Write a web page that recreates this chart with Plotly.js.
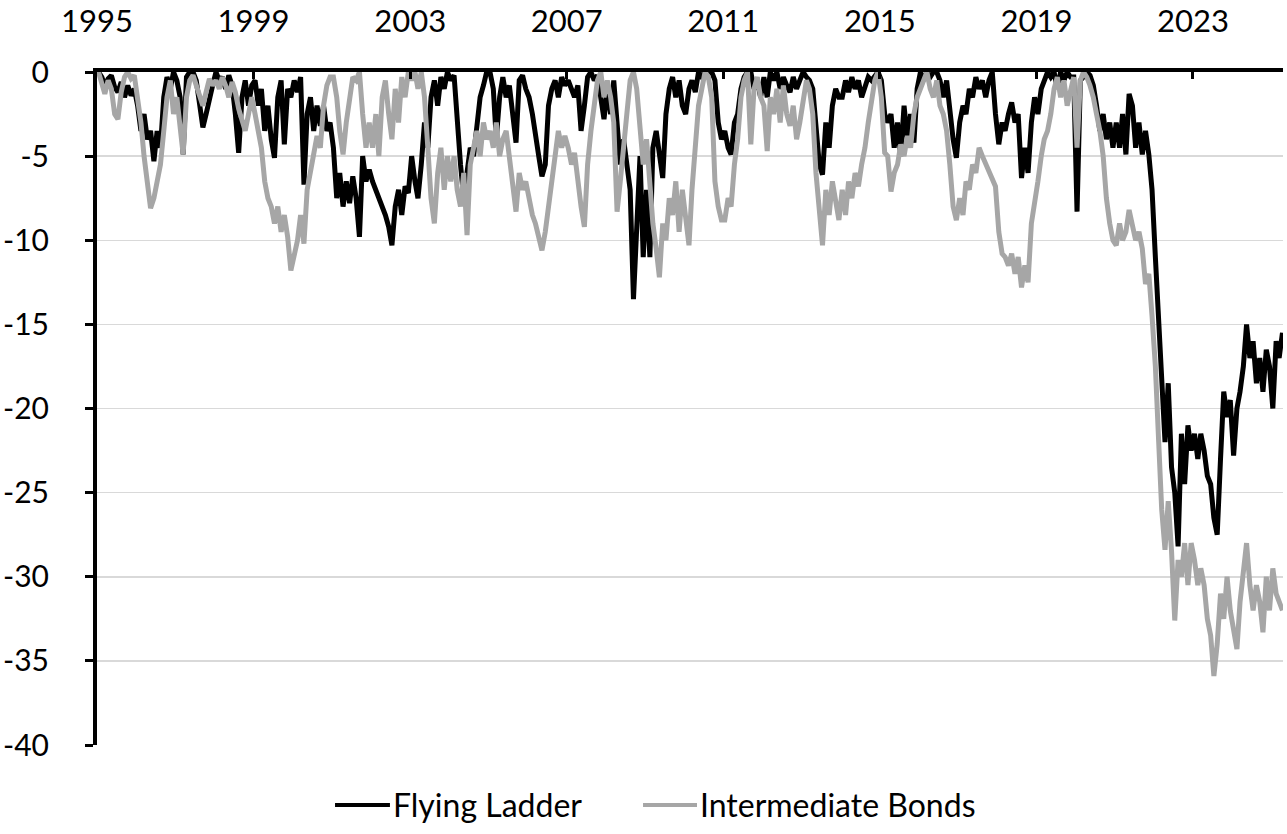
<!DOCTYPE html>
<html>
<head>
<meta charset="utf-8">
<script src="https://cdn.plot.ly/plotly-3.0.1.min.js"></script>
<style>
  html, body { margin: 0; padding: 0; background: #fff; }
  #drawdownChart { width: 1287px; height: 834px; }
</style>
</head>
<body>
<div id="drawdownChart"></div>
<script>
// monthly drawdown (%), Jan 1995 .. Apr 2025
const START_YEAR = 1995;

const flyingLadder = [
  0, -0.3, -0.8, -0.4, -0.2, -0.9, -1.2, -0.6, -1.5, -0.8, -1.4, -1.0,          // 1995
  -2.0, -3.5, -2.5, -4.0, -3.5, -5.3, -3.5, -4.5, -1.5, -0.3, -1.0, 0,          // 1996
  -0.5, -1.5, -4.9, -0.3, 0, 0, -0.5, -2.0, -3.3, -2.5, -1.5, -0.8,             // 1997
  0, -0.5, -0.3, -1.0, -0.2, -0.8, -2.5, -4.8, -1.5, -0.5, -2.0, -0.8,          // 1998
  -0.5, -2.0, -1.0, -3.5, -2.0, -4.0, -5.1, -1.5, -0.5, -4.3, -1.0, -1.5,       // 1999
  -0.5, -1.2, -0.3, -6.7, -2.5, -1.5, -3.5, -2.0, -3.2, -2.0, -3.5, -3.0,       // 2000
  -4.5, -7.5, -6.0, -8.0, -6.5, -7.8, -6.2, -7.5, -9.8, -5.0, -6.5, -5.8,       // 2001
  -6.5, -7.0, -7.5, -8.0, -8.5, -9.2, -10.3, -8.0, -7.0, -8.5, -6.8, -7.2,      // 2002
  -5.0, -6.5, -7.5, -5.5, -3.0, -4.5, -1.5, -0.5, -2.0, -0.3, -1.0, 0,          // 2003
  -0.5, -0.2, -3.0, -5.5, -7.5, -6.0, -4.5, -5.0, -3.0, -1.5, -0.8, 0,          // 2004
  0, -1.0, -4.0, -1.5, -0.3, -1.5, -0.8, -2.5, -4.2, -0.5, -0.2, -1.0,          // 2005
  -1.5, -2.5, -3.5, -5.0, -6.2, -5.5, -2.0, -1.0, -0.5, -1.5, -0.3, -0.8,       // 2006
  -0.5, -1.0, -1.5, -0.8, -3.5, -2.0, -0.3, 0, -0.5, -0.2, -1.5, -2.8,          // 2007
  -1.0, -2.5, -0.5, -3.5, -5.5, -4.0, -5.5, -7.0, -13.5, -9.0, -5.0, -11.0,     // 2008
  -7.0, -11.0, -4.5, -3.5, -5.0, -6.3, -2.5, -1.0, -0.3, -1.5, -0.5, -2.0,      // 2009
  -2.5, -1.0, -0.5, -1.2, 0, -0.3, 0, 0, 0, -0.5, -3.0, -4.0,                   // 2010
  -3.5, -4.5, -4.9, -3.0, -2.5, -1.0, -0.3, 0, 0, -1.0, -0.5, -1.5,             // 2011
  -0.3, -1.5, 0, -0.5, 0, -1.0, -0.3, -0.8, -1.2, -0.3, -1.0, -0.5,             // 2012
  0, -0.3, -0.5, -1.0, -3.5, -5.5, -6.1, -3.0, -4.5, -2.0, -1.0, -1.5,          // 2013
  -1.5, -0.5, -1.2, -0.3, -1.0, -0.5, -1.5, -0.8, -0.3, -0.5, -0.2, 0,          // 2014
  -0.5, -2.5, -3.0, -2.5, -4.5, -3.0, -5.0, -2.0, -4.0, -2.5, -4.2, -1.0,       // 2015
  0, -0.5, 0, -0.3, 0, 0, -0.5, -1.5, -0.5, -2.5, -4.0, -5.1,                   // 2016
  -3.0, -2.0, -2.5, -1.0, -1.5, -0.3, -1.0, -0.5, -1.5, -0.5, 0, -2.5,          // 2017
  -4.3, -3.0, -3.5, -2.5, -1.8, -3.0, -2.5, -6.3, -4.5, -6.0, -3.0, -1.5,       // 2018
  -2.5, -1.0, -0.5, 0, -0.3, 0, -1.0, 0, -0.5, 0, -0.3, -0.3,                   // 2019
  -8.3, -0.5, -0.3, 0, -0.2, -0.8, -2.0, -3.5, -2.5, -4.0, -3.0, -4.5,          // 2020
  -3.0, -4.5, -2.5, -4.9, -1.3, -2.0, -4.5, -3.0, -4.9, -3.5, -4.9, -7.0,       // 2021
  -11.0, -15.0, -19.5, -22.0, -18.5, -23.5, -25.0, -28.2, -21.5, -24.5, -21.0, -22.5, // 2022
  -21.5, -23.0, -21.5, -22.5, -24.0, -24.5, -26.5, -27.5, -23.0, -19.0, -20.5, -19.5, // 2023
  -22.8, -20.0, -19.0, -17.5, -15.0, -17.0, -16.0, -18.5, -17.0, -19.0, -16.5, -17.5, // 2024
  -20.0, -16.0, -17.0, -15.5                                                      // 2025
];

const intermediateBonds = [
  0, -0.6, -1.3, -0.5, -1.0, -2.5, -2.8, -1.2, -0.3, 0, -0.4, -0.2,             // 1995
  -1.5, -3.0, -5.0, -6.8, -8.1, -7.5, -6.5, -5.5, -3.5, -1.5, -0.5, -2.5,       // 1996
  -1.5, -3.5, -4.9, -1.5, -0.5, -0.2, -0.8, -1.5, -2.0, -1.2, -0.4, -0.8,       // 1997
  -0.5, -1.0, -0.3, -0.8, -1.5, -0.6, -1.2, -2.2, -2.8, -3.5, -2.5, -1.5,       // 1998
  -2.5, -3.5, -4.5, -6.5, -7.5, -8.0, -9.0, -8.0, -9.5, -8.5, -9.8, -11.8,      // 1999
  -11.0, -10.0, -8.5, -10.2, -7.0, -6.0, -5.0, -3.8, -4.5, -2.0, -0.8, -0.3,    // 2000
  -0.3, -1.5, -3.5, -4.9, -3.0, -1.5, -0.3, -0.5, 0, -2.5, -4.5, -3.0,          // 2001
  -4.5, -2.5, -5.0, -1.5, -0.5, -2.5, -4.0, -1.0, -3.0, -0.3, -1.5, 0,          // 2002
  -0.5, 0, -1.0, 0, -1.5, -4.5, -7.5, -9.0, -6.0, -4.5, -7.0, -5.0,             // 2003
  -6.5, -5.0, -7.0, -8.0, -6.0, -9.7, -5.5, -4.5, -3.5, -5.0, -3.0, -4.0,       // 2004
  -3.5, -4.5, -3.0, -5.0, -4.0, -3.5, -5.0, -6.5, -8.3, -6.0, -7.0, -6.5,       // 2005
  -7.5, -8.5, -9.0, -10.0, -10.6, -9.5, -8.0, -6.5, -5.0, -3.5, -4.5, -3.8,     // 2006
  -4.5, -5.5, -4.8, -6.5, -8.0, -9.2, -5.5, -3.5, -2.0, -0.5, 0, -1.5,          // 2007
  -0.5, -1.5, -3.0, -8.3, -6.5, -4.0, -2.5, -0.5, 0, -1.0, -3.0, -5.5,          // 2008
  -4.0, -7.0, -9.0, -10.5, -12.2, -9.0, -10.0, -7.5, -8.5, -6.5, -9.5, -7.0,    // 2009
  -8.5, -10.3, -7.0, -4.5, -2.0, -1.0, 0, -0.3, -1.5, -6.5, -8.0, -8.8,         // 2010
  -8.8, -7.5, -8.0, -5.5, -4.0, -1.5, -0.5, 0, -4.3, -1.0, -0.3, -1.5,          // 2011
  -2.0, -4.7, -1.5, -2.5, -1.0, -3.0, -0.8, -2.5, -3.2, -2.0, -4.0, -3.0,       // 2012
  -1.5, -0.5, -1.0, -2.5, -6.0, -8.5, -10.3, -7.0, -8.5, -6.5, -7.5, -8.8,      // 2013
  -7.0, -8.5, -6.5, -7.5, -6.0, -6.8, -5.5, -4.5, -3.0, -1.5, -0.5, 0,          // 2014
  -1.5, -4.8, -5.0, -7.1, -6.0, -5.5, -4.3, -5.0, -3.8, -4.5, -2.5, -1.5,       // 2015
  -1.0, -0.3, 0, -1.0, -1.5, -0.5, -2.0, -2.5, -3.5, -5.5, -8.0, -8.8,          // 2016
  -7.5, -8.5, -6.5, -7.0, -5.5, -6.0, -4.5, -5.0, -5.5, -6.0, -6.5, -6.8,       // 2017
  -9.5, -10.8, -11.0, -11.5, -10.8, -12.0, -11.0, -12.8, -11.5, -12.5, -9.0, -7.5, // 2018
  -6.5, -5.0, -4.0, -3.5, -2.5, -1.0, -0.3, -1.5, -0.5, -2.0, -1.0, -0.3,       // 2019
  -4.5, -0.5, 0, -0.3, -0.8, -1.5, -2.5, -3.5, -5.0, -7.5, -9.0, -10.0,         // 2020
  -10.3, -9.0, -10.0, -9.5, -8.2, -9.0, -10.0, -9.5, -10.5, -12.6, -12.0, -14.5, // 2021
  -17.5, -22.0, -26.0, -28.4, -25.5, -28.5, -32.6, -29.0, -30.0, -28.0, -30.5, -28.0, // 2022
  -29.0, -30.5, -29.5, -30.5, -32.5, -33.5, -35.9, -34.0, -31.0, -32.5, -30.0, -32.0, // 2023
  -33.0, -34.3, -31.5, -30.0, -28.0, -30.5, -32.0, -30.5, -31.5, -33.3, -30.0, -32.0, // 2024
  -29.5, -31.0, -31.5, -32.0                                                      // 2025
];

const yearTickVals = ['1995-01-01', '1999-01-01', '2003-01-01', '2007-01-01',
  '2011-01-01', '2015-01-01', '2019-01-01', '2023-01-01'];
const yearTickText = ['1995', '1999', '2003', '2007', '2011', '2015', '2019', '2023'];
const yTickVals = [0, -5, -10, -15, -20, -25, -30, -35, -40];
const yTickText = ['0', '-5', '-10', '-15', '-20', '-25', '-30', '-35', '-40'];
const seriesNames = ['Flying Ladder', 'Intermediate Bonds'];

const monthDates = flyingLadder.map((_, i) => {
  const y = START_YEAR + Math.floor(i / 12);
  const m = String((i % 12) + 1).padStart(2, '0');
  return `${y}-${m}-15`;
});

const fontFamily = 'Lato, "Open Sans", sans-serif';
const ladderColor = '#000000';
const bondsColor = '#a6a6a6';
const lineWidth = 5;

const ladderTrace = {
  x: monthDates,
  y: flyingLadder,
  type: 'scatter',
  mode: 'lines',
  name: seriesNames[0],
  line: { color: ladderColor, width: lineWidth },
  hoverinfo: 'skip'
};

const bondsTrace = {
  x: monthDates,
  y: intermediateBonds,
  type: 'scatter',
  mode: 'lines',
  name: seriesNames[1],
  line: { color: bondsColor, width: lineWidth },
  hoverinfo: 'skip'
};

// legend drawn by hand (paper coords) so the line keys can be as long as in the picture
const legendY = -0.089;
const legendKeys = [
  { x0: 0.2007, x1: 0.2470, color: ladderColor, name: seriesNames[0] },
  { x0: 0.4604, x1: 0.5059, color: bondsColor, name: seriesNames[1] }
];

const legendShapes = legendKeys.map(k => ({
  type: 'line',
  xref: 'paper',
  yref: 'paper',
  x0: k.x0,
  x1: k.x1,
  y0: legendY,
  y1: legendY,
  line: { color: k.color, width: 4 }
}));

const legendLabels = legendKeys.map(k => ({
  xref: 'paper',
  yref: 'paper',
  x: k.x1 + 0.001,
  y: legendY,
  xanchor: 'left',
  yanchor: 'middle',
  showarrow: false,
  text: k.name,
  font: { family: fontFamily, size: 32, color: '#000000' }
}));

Plotly.newPlot('drawdownChart', [ladderTrace, bondsTrace], {
  width: 1287,
  height: 834,
  paper_bgcolor: '#ffffff',
  plot_bgcolor: '#ffffff',
  margin: { t: 72, l: 97, r: 4, b: 89 },
  font: { family: fontFamily, color: '#000000', size: 30 },
  showlegend: false,
  shapes: legendShapes,
  annotations: legendLabels,
  xaxis: {
    type: 'date',
    side: 'top',
    range: ['1995-01-01', '2025-04-20'],
    tickmode: 'array',
    tickvals: yearTickVals,
    ticktext: yearTickText,
    showgrid: false,
    zeroline: false,
    showline: true,
    linecolor: '#000000',
    linewidth: 4,
    ticks: 'inside',
    ticklen: 7,
    tickwidth: 3,
    tickcolor: '#000000',
    ticklabelstandoff: 24,
    tickfont: { family: fontFamily, size: 31, color: '#000000' }
  },
  yaxis: {
    range: [-40, 0],
    tickmode: 'array',
    tickvals: yTickVals,
    ticktext: yTickText,
    showgrid: true,
    gridcolor: '#d9d9d9',
    gridwidth: 1.5,
    zeroline: false,
    showline: true,
    linecolor: '#000000',
    linewidth: 4,
    ticks: 'outside',
    ticklen: 8,
    tickwidth: 3,
    tickcolor: '#000000',
    ticklabelstandoff: 30,
    tickfont: { family: fontFamily, size: 30, color: '#000000' }
  }
}, { displayModeBar: false, staticPlot: true });
</script>
</body>
</html>
